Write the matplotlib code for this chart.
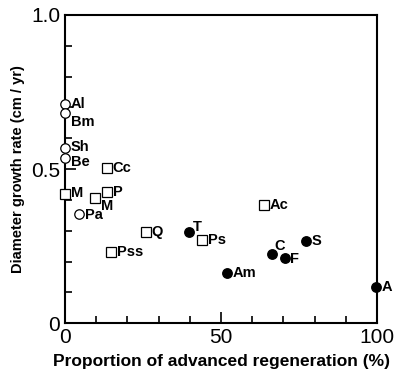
import matplotlib
matplotlib.use("Agg")
import matplotlib.pyplot as plt
from matplotlib.ticker import MultipleLocator

plt.rcParams['font.family'] = ['Liberation Sans', 'DejaVu Sans']

# open circles
open_names = ['Al', 'Bm', 'Sh', 'Be', 'Pa']
open_x = [0, 0, 0, 0, 4.5]
open_y = [0.711, 0.683, 0.568, 0.537, 0.354]

# open squares
sq_names = ['M', 'Cc', 'P', 'M', 'Q', 'Pss', 'Ps', 'Ac']
sq_x = [0, 13.5, 13.5, 9.6, 26, 14.8, 44, 63.7]
sq_y = [0.419, 0.503, 0.425, 0.406, 0.295, 0.231, 0.270, 0.383]

# filled circles
fill_names = ['T', 'C', 'F', 'S', 'Am', 'A']
fill_x = [39.6, 66.2, 70.4, 77.2, 52, 99.7]
fill_y = [0.295, 0.224, 0.211, 0.266, 0.162, 0.117]

# label offsets in points (default is to the right)
offsets = {'Bm': (4, -7), 'Sh': (4, 1), 'Be': (4, -3), 'M0': (4, 1), 'M1': (4, -6),
           'T': (3, 4), 'C': (2, 6), 'F': (4, -1), 'Pa': (4, -1)}

fig = plt.figure(figsize=(3.99, 3.74), dpi=100)
ax = fig.add_axes([0.163, 0.136, 0.782, 0.824])

ax.plot(open_x, open_y, 'o', mfc='white', mec='black', ms=6.8, mew=0.9, clip_on=False, zorder=3)
ax.plot(sq_x, sq_y, 's', mfc='white', mec='black', ms=6.8, mew=0.9, clip_on=False, zorder=3)
ax.plot(fill_x, fill_y, 'o', mfc='black', mec='black', ms=6.8, clip_on=False, zorder=3)

def label(names, xs, ys, keys=None):
    for i, (n, x, y) in enumerate(zip(names, xs, ys)):
        key = keys[i] if keys else n
        dx, dy = offsets.get(key, (4, 0))
        ax.annotate(n, (x, y), xytext=(dx, dy), textcoords='offset points',
                    ha='left', va='center', fontsize=10.5, fontweight='bold')

label(open_names, open_x, open_y)
label(sq_names, sq_x, sq_y, keys=['M0', 'Cc', 'P', 'M1', 'Q', 'Pss', 'Ps', 'Ac'])
label(fill_names, fill_x, fill_y)

ax.set_xlim(0, 100)
ax.set_ylim(0, 1.0)
ax.set_xticks([0, 50, 100])
ax.set_xticklabels(['0', '50', '100'])
ax.set_yticks([0, 0.5, 1.0])
ax.set_yticklabels(['0', '0.5', '1.0'])
ax.xaxis.set_minor_locator(MultipleLocator(10))
ax.yaxis.set_minor_locator(MultipleLocator(0.1))
ax.tick_params(which='both', direction='in', top=False, right=False, labelsize=15, width=1.2)
ax.tick_params(which='major', length=8)
ax.tick_params(which='minor', length=5)
for s in ax.spines.values():
    s.set_linewidth(1.5)

ax.set_xlabel('Proportion of advanced regeneration (%)', fontsize=12.5, fontweight='bold', labelpad=5)
ax.set_ylabel('Diameter growth rate (cm / yr)', fontsize=10.5, fontweight='bold', labelpad=4)

fig.savefig('out.png', dpi=100)
